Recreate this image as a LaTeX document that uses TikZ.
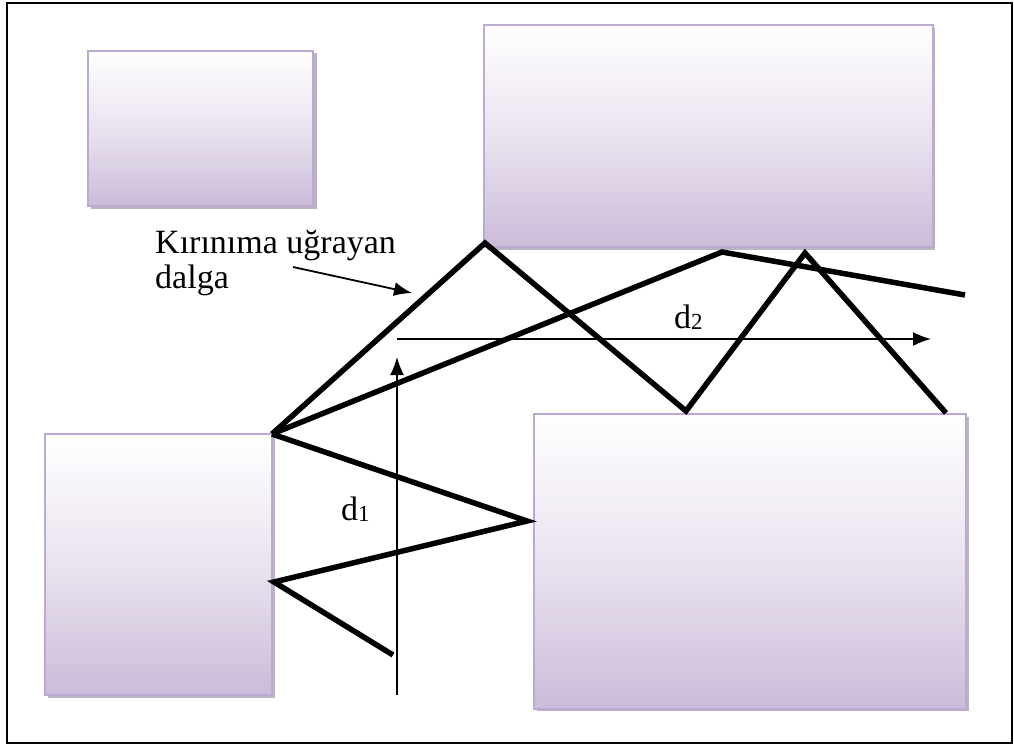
\documentclass[tikz,border=0pt]{standalone}
\usepackage{fontspec}
\setmainfont{Liberation Serif}
\usetikzlibrary{arrows.meta}
\definecolor{lavb}{RGB}{203,188,217}
\definecolor{lavm}{RGB}{234,227,239}
\definecolor{lavedge}{RGB}{188,170,211}
\definecolor{lavshadow}{RGB}{160,148,172}
\tikzset{
  box/.style={anchor=north west, inner sep=0pt, outer sep=0pt,
    top color=white, bottom color=lavb, middle color=lavm,
    draw=lavedge, line width=2.5pt},
  shadowbox/.style={fill=lavshadow, opacity=0.7},
  ray/.style={line width=5.5pt, line join=miter, black},
  dim/.style={line width=1.8pt, -{Latex[length=18pt,width=14pt]}},
  lbl/.style={anchor=base west, inner sep=0pt, font=\fontsize{34}{35}\selectfont, align=left},
  dlbl/.style={anchor=base west, inner sep=0pt, font=\fontsize{34}{36}\selectfont}
}
\newcommand{\sbx}[1]{\raisebox{-0.12ex}{\fontsize{23}{24}\selectfont #1}}
\begin{document}
\begin{tikzpicture}[x=1pt,y=-1pt]
\useasboundingbox (0,0) rectangle (1014,747);
\fill[white] (0,0) rectangle (1014,747);
\draw[line width=2pt] (7,3) rectangle (1012,743);
% shadows
\fill[shadowbox] (91,53) rectangle (317,209);
\fill[shadowbox] (487,28) rectangle (935,250);
\fill[shadowbox] (48,437) rectangle (275,698);
\fill[shadowbox] (537,417) rectangle (969,711);
% boxes
\node[box, minimum width=225pt, minimum height=155pt] (A) at (88,51) {};
\node[box, minimum width=449pt, minimum height=222pt] (B) at (484,25) {};
\node[box, minimum width=227pt, minimum height=261pt] (C) at (45,434) {};
\node[box, minimum width=432pt, minimum height=295pt] (D) at (534,414) {};
% ray points
\coordinate (p0) at (272,434);
\coordinate (p1) at (485,243);
\coordinate (p2) at (686,411);
\coordinate (p3) at (805,253);
\coordinate (p4) at (946,413);
\coordinate (q1) at (722,252);
\coordinate (q2) at (965,295);
\coordinate (r1) at (527,521);
\coordinate (r2) at (274,582);
\coordinate (r3) at (393,655);
\draw[ray] (p0) -- (p1) -- (p2) -- (p3) -- (p4);
\draw[ray] (p0) -- (q1) -- (q2);
\draw[ray] (p0) -- (r1) -- (r2) -- (r3);
% dimension arrows
\coordinate (d2s) at (397,339);
\coordinate (d2e) at (931,339);
\coordinate (d1s) at (397,695);
\coordinate (d1e) at (397,357);
\draw[dim] (d2s) -- (d2e);
\draw[dim] (d1s) -- (d1e);
% label
\node[lbl] (lab) at (155,288) {Kırınıma uğrayan\\dalga};
\coordinate (la) at (293,267);
\coordinate (lb) at (412,293);
\draw[dim] (la) -- (lb);
\node[dlbl] (t1) at (341,520) {d\sbx{1}};
\node[dlbl] (t2) at (674,328) {d\sbx{2}};
\end{tikzpicture}
\end{document}
